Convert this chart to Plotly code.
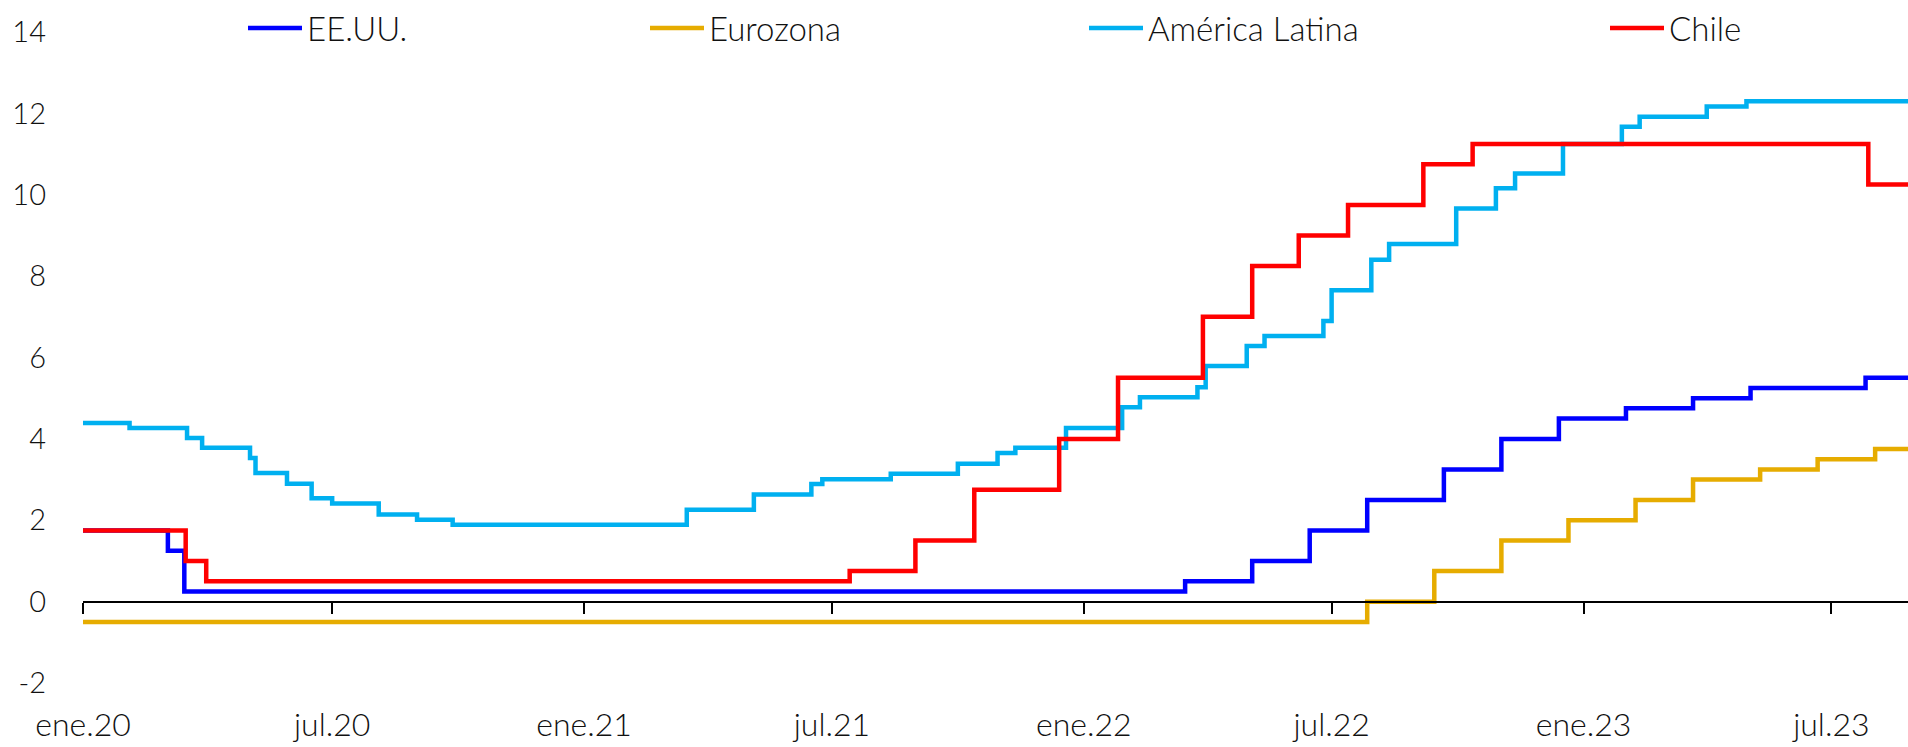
import plotly.graph_objects as go

# ---------------- data (step series: date of change -> new level) ----------------
us_dates = ["2020-01-01", "2020-03-03", "2020-03-15", "2022-03-16", "2022-05-04", "2022-06-15",
            "2022-07-27", "2022-09-21", "2022-11-02", "2022-12-14", "2023-02-01", "2023-03-22",
            "2023-05-03", "2023-07-26", "2023-08-26"]
us_vals = [1.75, 1.25, 0.25, 0.50, 1.00, 1.75, 2.50, 3.25, 4.00, 4.50, 4.75, 5.00, 5.25, 5.50, 5.50]

ez_dates = ["2020-01-01", "2022-07-27", "2022-09-14", "2022-11-02", "2022-12-21", "2023-02-08",
            "2023-03-22", "2023-05-10", "2023-06-21", "2023-08-02", "2023-08-26"]
ez_vals = [-0.50, 0.00, 0.75, 1.50, 2.00, 2.50, 3.00, 3.25, 3.50, 3.75, 3.75]

la_dates = ["2020-01-01", "2020-02-04", "2020-03-17", "2020-03-28", "2020-05-02", "2020-05-06",
            "2020-05-29", "2020-06-16", "2020-07-01", "2020-08-04", "2020-09-01", "2020-09-27",
            "2021-03-17", "2021-05-05", "2021-06-16", "2021-06-24", "2021-08-13", "2021-10-01",
            "2021-10-30", "2021-11-12", "2021-12-19", "2022-01-29", "2022-02-11", "2022-03-25",
            "2022-03-31", "2022-04-30", "2022-05-13", "2022-06-25", "2022-07-01", "2022-07-30",
            "2022-08-12", "2022-09-30", "2022-10-29", "2022-11-12", "2022-12-17", "2023-01-29",
            "2023-02-11", "2023-04-01", "2023-04-30", "2023-08-26"]
la_vals = [4.39, 4.27, 4.02, 3.78, 3.53, 3.16,
           2.90, 2.54, 2.41, 2.14, 2.01, 1.89,
           2.26, 2.63, 2.89, 3.01, 3.14, 3.39,
           3.65, 3.78, 4.27, 4.78, 5.02, 5.27,
           5.79, 6.28, 6.53, 6.90, 7.65, 8.40,
           8.79, 9.66, 10.16, 10.52, 11.25, 11.67,
           11.92, 12.17, 12.30, 12.30]

cl_dates = ["2020-01-01", "2020-03-16", "2020-03-31", "2021-07-14", "2021-08-31", "2021-10-13",
            "2021-12-14", "2022-01-26", "2022-03-29", "2022-05-04", "2022-06-07", "2022-07-13",
            "2022-09-06", "2022-10-12", "2023-07-28", "2023-08-26"]
cl_vals = [1.75, 1.00, 0.50, 0.75, 1.50, 2.75, 4.00, 5.50, 7.00, 8.25, 9.00, 9.75,
           10.75, 11.25, 10.25, 10.25]

series_names = ["EE.UU.", "Eurozona", "América Latina", "Chile"]
series_colors = ["#0000FF", "#E6AC00", "#00B0F0", "#FF0000"]

tick_dates = ["2020-01-01", "2020-07-01", "2021-01-01", "2021-07-01", "2022-01-01",
              "2022-07-01", "2023-01-01", "2023-07-01"]
tick_labels = ["ene.20", "jul.20", "ene.21", "jul.21", "ene.22", "jul.22", "ene.23", "jul.23"]
y_ticks = [-2, 0, 2, 4, 6, 8, 10, 12, 14]
y_labels = ["-2", "0", "2", "4", "6", "8", "10", "12", "14"]

x_range = ["2020-01-01", "2023-08-26"]

# ---------------- figure ----------------
FONT = "Lato"
fig = go.Figure()

all_series = [(us_dates, us_vals), (ez_dates, ez_vals), (la_dates, la_vals), (cl_dates, cl_vals)]
legend_ids = ["legend", "legend2", "legend3", "legend4"]
for (d, v), name, col, lg in zip(all_series, series_names, series_colors, legend_ids):
    fig.add_trace(go.Scatter(x=d, y=v, name=name, mode="lines", line_shape="hv",
                             line=dict(color=col, width=4.5), legend=lg))

# invisible trace to carry the zero-crossing axis with tick marks
fig.add_trace(go.Scatter(x=x_range, y=[None, None], xaxis="x2", showlegend=False,
                         mode="lines", hoverinfo="skip"))

W, H = 1908, 747
ml, mr, mt, mb = 83, 0, 32, 64
zero_pos = (2 / 16)  # fraction of plot height where y = 0

ITEMW = 54
legend_text_x = [309, 711, 1150, 1671]
legend_common = dict(orientation="h", bgcolor="rgba(0,0,0,0)", borderwidth=0,
                     font=dict(family=FONT, size=33, color="#111", weight=300),
                     yanchor="middle", y=1.006, xanchor="left", itemclick=False,
                     itemdoubleclick=False, tracegroupgap=0, itemwidth=ITEMW)
legends = {}
for lg, tx in zip(legend_ids, legend_text_x):
    legends[lg] = dict(legend_common, x=(tx - (ITEMW + 12) - ml) / (W - ml - mr))

fig.update_layout(
    width=W, height=H,
    margin=dict(l=ml, r=mr, t=mt, b=mb),
    paper_bgcolor="white", plot_bgcolor="white",
    showlegend=True,
    xaxis=dict(type="date", range=x_range, tickvals=tick_dates, ticktext=tick_labels,
               ticks="", showline=False, showgrid=False, zeroline=False,
               tickfont=dict(family=FONT, size=32, color="#111", weight=300),
               ticklabelstandoff=20),
    xaxis2=dict(type="date", overlaying="x", matches="x", anchor="free", position=zero_pos,
                side="bottom", showline=True, linecolor="black", linewidth=2,
                ticks="outside", ticklen=11, tickwidth=2, tickcolor="black",
                tickvals=tick_dates, showticklabels=False, showgrid=False, zeroline=False),
    yaxis=dict(range=[-2, 14], tickvals=y_ticks, ticktext=y_labels, ticks="", showline=False,
               showgrid=False, zeroline=False,
               tickfont=dict(family=FONT, size=29, color="#111", weight=300),
               ticklabelstandoff=36),
    **legends,
)

fig.write_html("out.html", config={"displayModeBar": False},
               post_script="document.body.style.margin='0';document.body.style.overflow='hidden';")
